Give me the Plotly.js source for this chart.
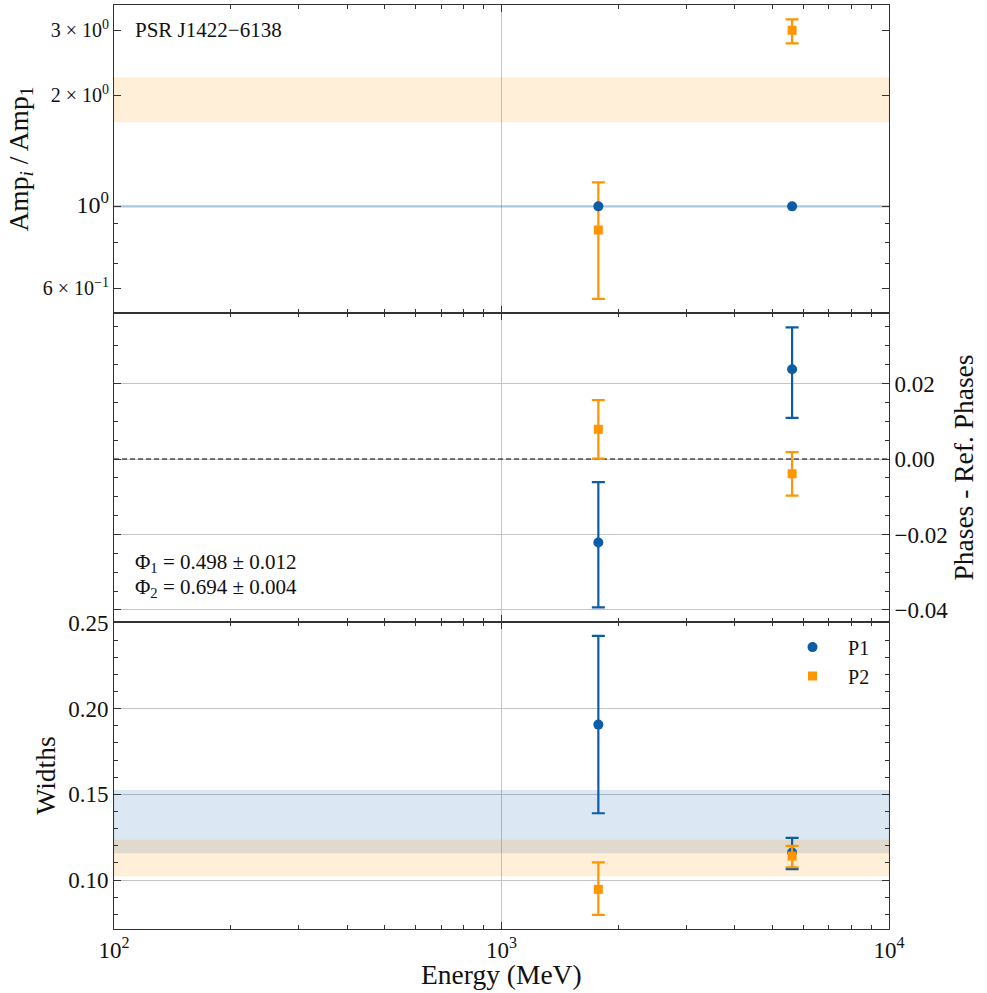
<!DOCTYPE html>
<html>
<head>
<meta charset="utf-8">
<script src="https://cdn.plot.ly/plotly-3.0.1.min.js"></script>
<style>html,body{margin:0;padding:0;background:#fff;}</style>
</head>
<body>
<div id="plot" style="width:987px;height:993px;"></div>
<script>
// ---- data ----
const energy = [1778, 5623];                 // MeV (bin centres)
const xLimits = [100, 10000];

const ampP1 = [1.0, 1.0];
const ampP2 = [0.863, 3.0];
const ampP2ErrPlus = [0.298, 0.213];
const ampP2ErrMinus = [0.302, 0.234];
const ampBandP2 = [1.696, 2.232];
const ampRefP1 = 1.0;

const phaseP1 = [-0.0221, 0.0238];
const phaseP1ErrPlus = [0.0160, 0.0111];
const phaseP1ErrMinus = [0.0172, 0.0129];
const phaseP2 = [0.0079, -0.0039];
const phaseP2ErrPlus = [0.0077, 0.0057];
const phaseP2ErrMinus = [0.0078, 0.0058];

const widthP1 = [0.1907, 0.1161];
const widthP1ErrPlus = [0.0517, 0.0085];
const widthP1ErrMinus = [0.0517, 0.0097];
const widthP2 = [0.0946, 0.1140];
const widthP2ErrPlus = [0.0157, 0.0060];
const widthP2ErrMinus = [0.0149, 0.0065];
const widthBandP1 = [0.1159, 0.1523];
const widthBandP2 = [0.1025, 0.1233];

const pulsarName = "PSR J1422\u22126138";
const phiLabels = ["\u03A6<sub>1</sub> = 0.498 \u00B1 0.012", "\u03A6<sub>2</sub> = 0.694 \u00B1 0.004"];
const seriesNames = ["P1", "P2"];
const xTitle = "Energy (MeV)";
const xTickVals = [100, 1000, 10000];
const xTickText = ["10<sup>2</sup>", "10<sup>3</sup>", "10<sup>4</sup>"];
const ampTickVals = [0.6, 1, 2, 3];
const ampTickText = ["6 \u00D7 10<sup>\u22121</sup>", "<span style='font-size:24px'>10<sup>0</sup></span>", "2 \u00D7 10<sup>0</sup>", "3 \u00D7 10<sup>0</sup>"];

// ---- styles ----
const BLUE = "#0C5DA5", ORANGE = "#FF9500";
const FONT = "Liberation Serif";
const TITLE_SIZE = 27.5;

function band(xa, ya, lims, color) {
  return {x: [xLimits[0], xLimits[1], xLimits[1], xLimits[0], xLimits[0]],
          y: [lims[0], lims[0], lims[1], lims[1], lims[0]],
          xaxis: xa, yaxis: ya, mode: "lines", fill: "toself", fillcolor: color,
          line: {width: 0.6, color: color}, showlegend: false, hoverinfo: "skip"};
}
function pts(xa, ya, y, plus, minus, color, sym, name, showleg) {
  const t = {x: energy, y: y, xaxis: xa, yaxis: ya, mode: "markers", name: name,
    marker: {color: color, size: sym === "circle" ? 10 : 9, symbol: sym},
    showlegend: showleg, legendgroup: name};
  if (plus) t.error_y = {type: "data", symmetric: false, array: plus, arrayminus: minus,
    color: color, thickness: 2.2, width: 6.5};
  return t;
}

const traces = [
  band("x3", "y", ampBandP2, "rgba(255,149,0,0.15)"),
  {x: xLimits, y: [ampRefP1, ampRefP1], xaxis: "x3", yaxis: "y", mode: "lines",
   line: {color: "rgba(12,93,165,0.35)", width: 2.4}, showlegend: false, hoverinfo: "skip"},
  pts("x3", "y", ampP2, ampP2ErrPlus, ampP2ErrMinus, ORANGE, "square", seriesNames[1], false),
  pts("x3", "y", ampP1, null, null, BLUE, "circle", seriesNames[0], false),
  {x: xLimits, y: [0, 0], xaxis: "x2", yaxis: "y2", mode: "lines",
   line: {color: "#000", width: 1.2, dash: "5px,3px"}, showlegend: false, hoverinfo: "skip"},
  pts("x2", "y2", phaseP1, phaseP1ErrPlus, phaseP1ErrMinus, BLUE, "circle", seriesNames[0], false),
  pts("x2", "y2", phaseP2, phaseP2ErrPlus, phaseP2ErrMinus, ORANGE, "square", seriesNames[1], false),
  band("x", "y3", widthBandP1, "rgba(12,93,165,0.15)"),
  band("x", "y3", widthBandP2, "rgba(255,149,0,0.15)"),
  pts("x", "y3", widthP1, widthP1ErrPlus, widthP1ErrMinus, BLUE, "circle", seriesNames[0], true),
  pts("x", "y3", widthP2, widthP2ErrPlus, widthP2ErrMinus, ORANGE, "square", seriesNames[1], true)
];

const minorX = [200,300,400,500,600,700,800,900,2000,3000,4000,5000,6000,7000,8000,9000];
const GRID = "#c4c4c4";
const AXC = "#333";
function xax(anchor, showLabels) {
  return {type: "log", range: [2, 4], anchor: anchor, domain: [0, 1],
    tickmode: "array", tickvals: xTickVals, ticktext: xTickText, showticklabels: showLabels,
    ticks: "inside", ticklen: 7, tickwidth: 1, tickcolor: AXC,
    minor: {tickmode: "array", tickvals: minorX, ticks: "inside", ticklen: 4, tickwidth: 1, tickcolor: AXC, showgrid: false},
    showline: true, linecolor: AXC, linewidth: 1, mirror: "allticks",
    showgrid: true, gridcolor: GRID, gridwidth: 1, zeroline: false,
    tickfont: {family: FONT, size: 23, color: "#111"}};
}

const layout = {
  width: 987, height: 993,
  margin: {l: 114, r: 98, t: 5, b: 64},
  paper_bgcolor: "#fff", plot_bgcolor: "#fff",
  font: {family: FONT, color: "#111"},
  xaxis: xax("y3", true),
  xaxis2: Object.assign(xax("y2", false), {matches: "x"}),
  xaxis3: Object.assign(xax("y", false), {matches: "x"}),
  yaxis: {type: "log", domain: [0.6663, 1], anchor: "x3", range: [-0.290, 0.5457],
    tickmode: "array", tickvals: ampTickVals, ticktext: ampTickText,
    ticks: "inside", ticklen: 7, tickwidth: 1, tickcolor: AXC,
    minor: {tickmode: "array", tickvals: [0.7, 0.8, 0.9], ticks: "inside", ticklen: 4, tickwidth: 1, tickcolor: AXC, showgrid: false},
    showline: true, linecolor: AXC, linewidth: 1, mirror: "allticks",
    showgrid: false, zeroline: false,
    tickfont: {family: FONT, size: 20, color: "#111"},
    title: {text: "Amp<sub><i>i</i></sub> / Amp<sub>1</sub>", font: {family: FONT, size: TITLE_SIZE, color: "#111"}, standoff: 6}},
  yaxis2: {domain: [0.3326, 0.6663], anchor: "x2", range: [-0.0431, 0.0386], side: "right",
    tickmode: "array", tickvals: [-0.04, -0.02, 0, 0.02], tickformat: ".2f",
    ticks: "inside", ticklen: 7, tickwidth: 1, tickcolor: AXC,
    minor: {dtick: 0.005, ticks: "inside", ticklen: 4, tickwidth: 1, tickcolor: AXC, showgrid: false},
    showline: true, linecolor: AXC, linewidth: 1, mirror: "allticks",
    showgrid: true, gridcolor: GRID, gridwidth: 1, zeroline: false,
    tickfont: {family: FONT, size: 23, color: "#111"},
    title: {text: "Phases - Ref. Phases", font: {family: FONT, size: TITLE_SIZE, color: "#111"}, standoff: 6}},
  yaxis3: {domain: [0, 0.3322], anchor: "x", range: [0.0715, 0.2505],
    tickmode: "array", tickvals: [0.10, 0.15, 0.20, 0.25], tickformat: ".2f",
    ticks: "inside", ticklen: 7, tickwidth: 1, tickcolor: AXC,
    minor: {dtick: 0.01, ticks: "inside", ticklen: 4, tickwidth: 1, tickcolor: AXC, showgrid: false},
    showline: true, linecolor: AXC, linewidth: 1, mirror: "allticks",
    showgrid: true, gridcolor: GRID, gridwidth: 1, zeroline: false,
    tickfont: {family: FONT, size: 23, color: "#111"},
    title: {text: "Widths", font: {family: FONT, size: TITLE_SIZE, color: "#111"}, standoff: 4}},
  legend: {x: 0.8555, y: 0.3262, xanchor: "left", yanchor: "top", bgcolor: "rgba(0,0,0,0)",
    font: {family: FONT, size: 20, color: "#111"}, tracegroupgap: 0, itemwidth: 61},
  showlegend: true,
  annotations: [
    {text: xTitle, xref: "paper", yref: "paper", x: 0.5, y: -0.0488, xanchor: "center", yanchor: "middle",
     showarrow: false, font: {family: FONT, size: TITLE_SIZE, color: "#111"}},
    {text: pulsarName, xref: "paper", yref: "paper", x: 0.024, y: 0.973, xanchor: "left", yanchor: "middle",
     showarrow: false, font: {family: FONT, size: 21, color: "#111"}},
    {text: phiLabels[0], xref: "paper", yref: "paper", x: 0.024, y: 0.396, xanchor: "left", yanchor: "middle",
     showarrow: false, font: {family: FONT, size: 21, color: "#111"}},
    {text: phiLabels[1], xref: "paper", yref: "paper", x: 0.024, y: 0.369, xanchor: "left", yanchor: "middle",
     showarrow: false, font: {family: FONT, size: 21, color: "#111"}}
  ]
};

Plotly.newPlot("plot", traces, layout, {staticPlot: true});
</script>
</body>
</html>
